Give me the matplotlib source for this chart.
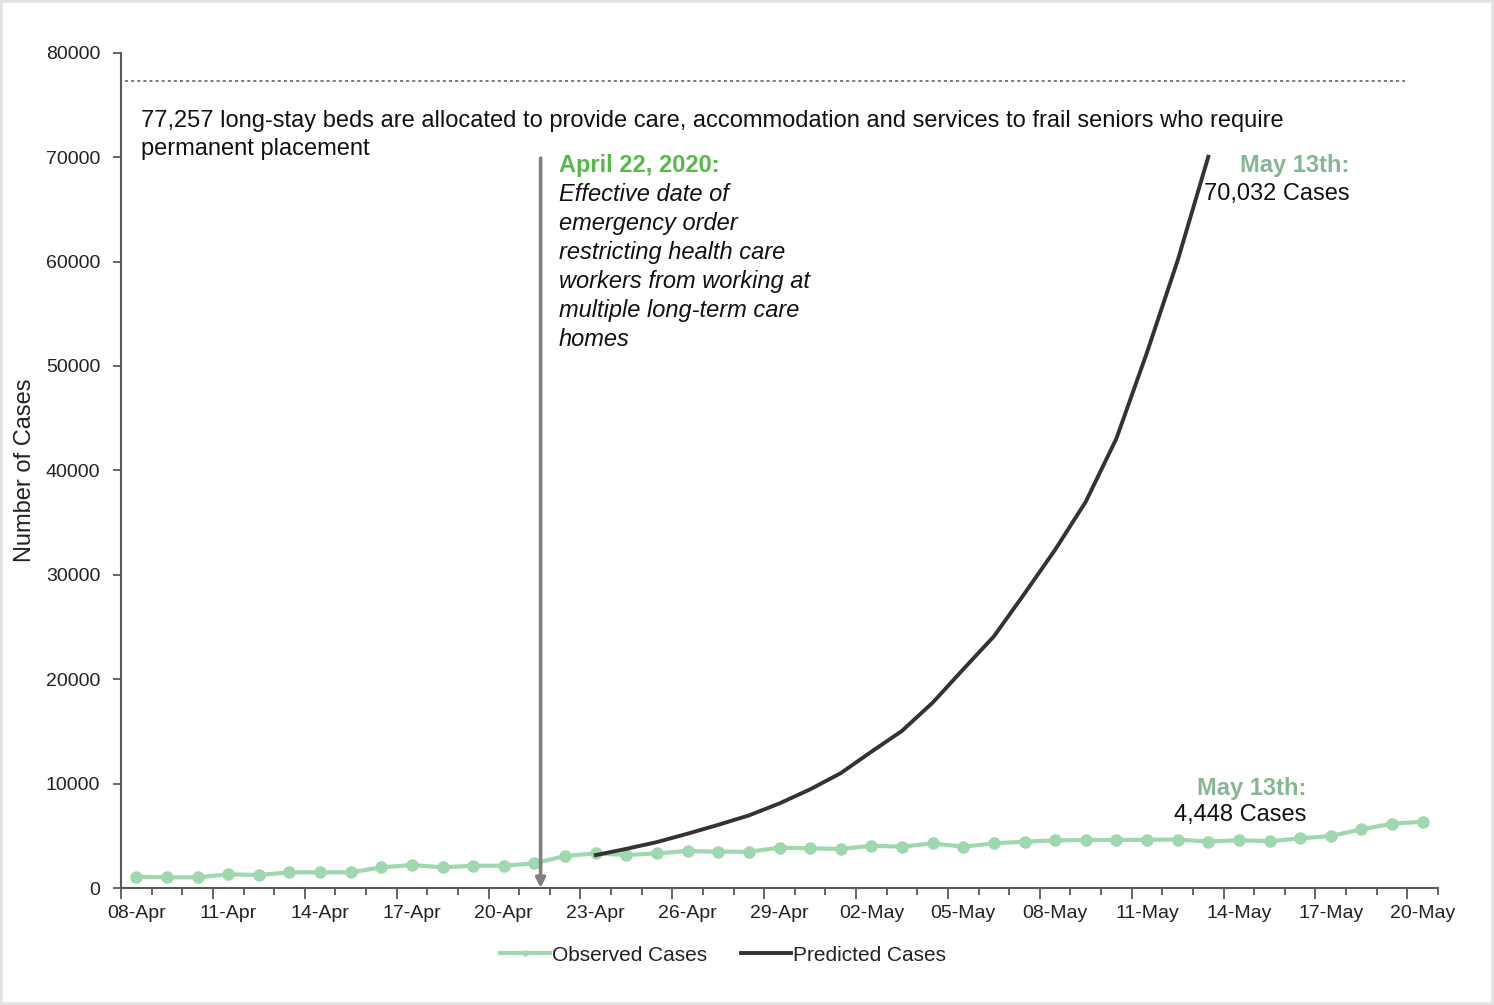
import matplotlib
matplotlib.use("Agg")
import matplotlib.pyplot as plt
from matplotlib.patches import Rectangle

plt.rcParams['font.family'] = ['Liberation Sans', 'DejaVu Sans']

# ---- data -------------------------------------------------------------
dates = ['08-Apr', '09-Apr', '10-Apr', '11-Apr', '12-Apr', '13-Apr', '14-Apr',
         '15-Apr', '16-Apr', '17-Apr', '18-Apr', '19-Apr', '20-Apr', '21-Apr',
         '22-Apr', '23-Apr', '24-Apr', '25-Apr', '26-Apr', '27-Apr', '28-Apr',
         '29-Apr', '30-Apr', '01-May', '02-May', '03-May', '04-May', '05-May',
         '06-May', '07-May', '08-May', '09-May', '10-May', '11-May', '12-May',
         '13-May', '14-May', '15-May', '16-May', '17-May', '18-May', '19-May',
         '20-May']

observed = [1080, 1025, 1025, 1310, 1245, 1500, 1500, 1500, 1980, 2200,
            1980, 2135, 2135, 2365, 3065, 3320, 3160, 3320, 3545, 3475,
            3475, 3860, 3800, 3735, 4050, 3955, 4280, 3955, 4280, 4435,
            4560, 4600, 4600, 4620, 4640, 4448, 4580, 4480, 4750, 4980,
            5620, 6160, 6350]

# predicted series runs from 23-Apr to 13-May
pred_start = 15
predicted = [3150, 3750, 4400, 5200, 6050, 6950, 8100, 9450, 11000, 13050,
             15050, 17750, 20950, 24100, 28200, 32400, 37000, 43050, 51300,
             60100, 70032]

beds = 77257
y_ticks = [0, 10000, 20000, 30000, 40000, 50000, 60000, 70000, 80000]
label_every = 3

# ---- styling ----------------------------------------------------------
GREEN = '#9fd8ae'
DARK = '#333333'
AXIS = '#595959'
TITLE_GREEN = '#57b947'
NOTE_GREEN = '#86b693'
TXT = '#111111'

fig = plt.figure(figsize=(14.94, 10.05), dpi=100)
fig.patch.set_facecolor('white')
fig.add_artist(Rectangle((0, 0), 1, 1, transform=fig.transFigure,
                         facecolor='none', edgecolor='#e2e2e2', linewidth=4))

ax = fig.add_axes([121 / 1494, 1 - 888 / 1005, (1438 - 121) / 1494,
                   (888 - 52.7) / 1005])

x_obs = list(range(len(observed)))
x_pred = list(range(pred_start, pred_start + len(predicted)))

ax.plot(x_obs, observed, color=GREEN, lw=3, marker='o', markersize=9,
        markeredgewidth=0, label='Observed Cases', zorder=3)
ax.plot(x_pred, predicted, color=DARK, lw=2.8, label='Predicted Cases',
        zorder=4)

ax.set_xlim(-0.5, len(dates) - 0.5)
ax.set_ylim(0, 80000)

# spines
for s in ['top', 'right']:
    ax.spines[s].set_visible(False)
for s in ['left', 'bottom']:
    ax.spines[s].set_color(AXIS)
    ax.spines[s].set_linewidth(1.5)

# y axis
ax.set_yticks(y_ticks)
ax.set_yticklabels([str(v) for v in y_ticks])
ax.tick_params(axis='y', length=6, width=1.3, color=AXIS, pad=9,
               labelsize=14, labelcolor='#222222')
ax.set_ylabel('Number of Cases', fontsize=17, color='#222222', labelpad=7)

# x axis: tick marks between categories, longer every third one
ax.set_xticks([k - 0.5 for k in range(0, len(dates) + 1, label_every)])
ax.set_xticks([k - 0.5 for k in range(len(dates) + 1)], minor=True)
ax.tick_params(axis='x', which='major', length=8, width=1.3, color=AXIS,
               labelbottom=False)
ax.tick_params(axis='x', which='minor', length=5, width=1.3, color=AXIS)

sec = ax.secondary_xaxis('bottom')
sec.set_xticks(list(range(0, len(dates), label_every)),
               [dates[i] for i in range(0, len(dates), label_every)])
sec.tick_params(length=0, pad=12, labelsize=14, labelcolor='#222222')
sec.spines['bottom'].set_visible(False)

# capacity line and its note
ax.axhline(beds, xmin=0.003, xmax=0.975, color=AXIS, lw=1.1,
           ls=(0, (2, 2)), zorder=2)
ax.text(0.15, 74500, '77,257 long-stay beds are allocated to provide care, '
        'accommodation and services to frail seniors who require',
        fontsize=17, color=TXT, va='top', ha='left')
ax.text(0.15, 71820, 'permanent placement',
        fontsize=17, color=TXT, va='top', ha='left')

# emergency order marker
ax.annotate('', xy=(13.2, 0), xytext=(13.2, 69900),
            arrowprops=dict(arrowstyle='-|>', color='#7f7f7f', lw=2.6,
                            mutation_scale=14, shrinkA=0, shrinkB=0),
            zorder=5)
ax.text(13.8, 70270, 'April 22, 2020:', fontsize=17, fontweight='bold',
        color=TITLE_GREEN, va='top', ha='left')
ax.text(13.8, 67540, 'Effective date of\nemergency order\nrestricting health care\n'
        'workers from working at\nmultiple long-term care\nhomes',
        fontsize=17, style='italic', color=TXT, va='top', ha='left',
        linespacing=1.34)

# end-of-series notes
ax.text(39.6, 70270, 'May 13th:', fontsize=17, fontweight='bold',
        color=NOTE_GREEN, va='top', ha='right')
ax.text(39.6, 67540, f'{predicted[-1]:,} Cases', fontsize=17,
        color=TXT, va='top', ha='right')

ax.text(38.2, 10650, 'May 13th:', fontsize=17, fontweight='bold',
        color=NOTE_GREEN, va='top', ha='right')
ax.text(38.2, 8050, f'{observed[35]:,} Cases', fontsize=17,
        color=TXT, va='top', ha='right')

# legend
handles, labels = ax.get_legend_handles_labels()
fig.legend(handles, labels, loc='center', bbox_to_anchor=(723 / 1494, 1 - 955 / 1005),
           ncol=2, frameon=False, fontsize=15, handlelength=2.4,
           handletextpad=0.1, columnspacing=1.6, markerscale=0.5,
           labelcolor='#222222')

fig.savefig('out.png', dpi=100)
